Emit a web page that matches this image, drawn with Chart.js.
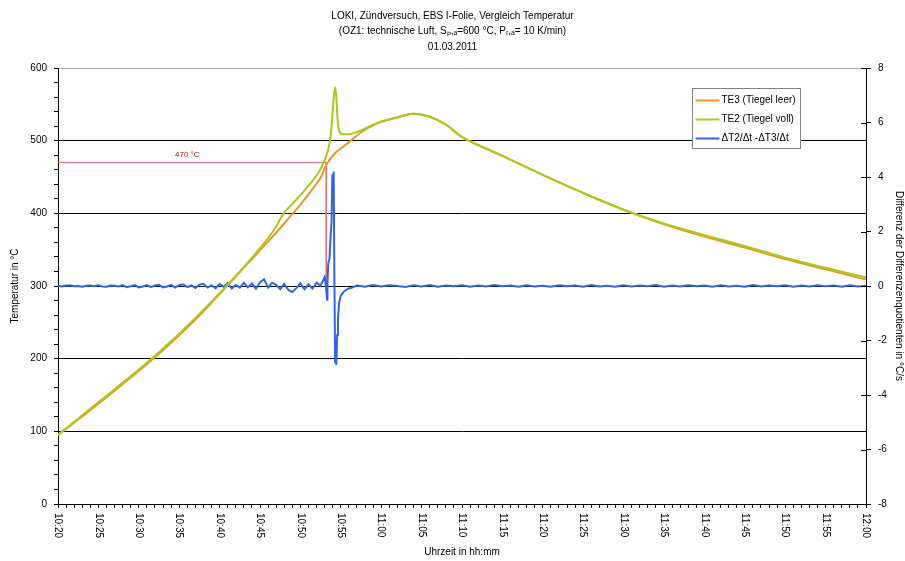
<!DOCTYPE html>
<html><head><meta charset="utf-8">
<script src="https://cdn.jsdelivr.net/npm/chart.js@4.4.0/dist/chart.umd.min.js"></script>
<style>html,body{margin:0;padding:0;background:#fff}</style>
</head><body>
<canvas id="c" width="905" height="561"></canvas>
<script>
// ---- DATA (x = minutes after 10:20) ----
const chartTitle = ['LOKI, Zündversuch, EBS I-Folie, Vergleich Temperatur',
  '(OZ1: technische Luft, S\u209A,\u2090=600 °C, P\u1D63,\u2090= 10 K/min)',
  '01.03.2011'];
const timeTickLabels = ['10:20','10:25','10:30','10:35','10:40','10:45','10:50','10:55','11:00','11:05',
  '11:10','11:15','11:20','11:25','11:30','11:35','11:40','11:45','11:50','11:55','12:00'];
const seriesNames = ['TE3 (Tiegel leer)', 'TE2 (Tiegel voll)', '\u0394T2/\u0394t -\u0394T3/\u0394t'];

const te3Series = [[0,95],[2,112],[4,129],[6,147],[8,165],[10,183],[12,202],[14,222],[16,243],[18,265],
  [20,289],[22,313],[24,337],[26,361],[28,386],[29,399],[30,412],[31,426],[32,441],[32.5,449],[33,462],
  [33.5,472],[34,479],[34.4,484],[35,489],[36,498],[37,507],[38,515],[39,521],[40,526],[42,532],[44,537],
  [46,533],[48,522],[50,505],[52,494],[55,479],[60,453],[65,428],[70,405],[75,385],[80,368],[85,353],
  [90,337],[95,323],[100,309]];

const te2Series = [[0,95],[2,113],[4,131],[6,149],[8,167],[10,185],[12,204],[14,224],[16,245],[18,267],
  [20,290],[22,314],[24,339],[26,366],[27,382],[28,401],[29,413],[30,425],[31,438],[32,452],[32.5,461],
  [33,473],[33.4,486],[33.7,503],[33.9,525],[34.1,555],[34.3,574],[34.45,560],[34.6,530],[34.8,513],
  [35.2,509],[36,509],[37,512],[37.7,515],[38.4,519],[39,522],[40,526],[42,532],[44,537],[46,533],[48,522],
  [50,505],[52,494],[55,479],[60,453],[65,428],[70,405],[75,386],[80,370],[85,355],[90,339],[95,325],[100,312]];

const diffSeries = [[0,0.01],[0.5,-0.02],[1,0.02],[1.5,0.03],[2,-0.01],[2.5,0.0],[3,-0.03],[3.5,0.01],
  [4,0.02],[4.5,-0.01],[5,0.03],[5.5,-0.02],[6,-0.03],[6.5,0.02],[7,0.01],[7.5,-0.02],[8,0.03],[8.5,-0.04],
  [9,-0.01],[9.5,0.03],[10,-0.05],[10.5,-0.02],[11,0.03],[11.5,-0.04],[12,0.02],[12.5,0.04],[13,-0.05],
  [13.5,-0.02],[14,0.04],[14.5,-0.06],[15,0.03],[15.5,0.06],[16,-0.04],[16.5,0.02],[17,-0.07],[17.5,0.05],
  [18,0.08],[18.5,-0.06],[19,0.02],[19.5,-0.08],[20,0.07],[20.5,-0.03],[21,0.1],[21.5,-0.09],[22,0.04],
  [22.5,-0.06],[23,0.12],[23.5,-0.05],[24,0.09],[24.5,-0.1],[25,0.14],[25.5,0.25],[26,-0.06],[26.5,0.12],
  [27,0.04],[27.5,-0.12],[28,0.08],[28.5,-0.14],[29,-0.22],[29.5,-0.08],[30,0.1],[30.5,-0.12],[31,0.06],
  [31.5,-0.1],[32,0.12],[32.5,0.02],
  [33,0.32],[33.15,0.05],[33.3,-0.5],[33.35,0.1],[33.45,0.85],[33.6,1.0],[33.75,1.9],[33.85,2.3],
  [33.95,4.1],[34.05,3.0],[34.12,4.2],[34.2,0.5],[34.3,-2.8],[34.38,-2.0],[34.45,-2.9],[34.55,-1.8],
  [34.65,-1.2],[34.8,-0.6],[35,-0.35],[35.4,-0.2],[35.9,-0.1],[36.5,-0.05],
  [37,0.02],[38,-0.03],[39,0.04],[40,-0.02],[41,0.03],[42,0.0],[43,-0.04],[44,0.03],[45,-0.02],[46,0.04],
  [47,-0.03],[48,0.02],[49,-0.01],[50,0.03],[51,-0.03],[52,0.02],[53,-0.02],[54,0.04],[55,-0.01],[56,0.02],
  [57,-0.03],[58,0.03],[59,-0.02],[60,0.01],[61,-0.03],[62,0.03],[63,-0.01],[64,0.02],[65,-0.03],[66,0.04],
  [67,-0.02],[68,0.01],[69,-0.03],[70,0.03],[71,-0.02],[72,0.02],[73,-0.01],[74,0.04],[75,-0.03],[76,0.02],
  [77,-0.02],[78,0.03],[79,-0.01],[80,0.02],[81,-0.03],[82,0.03],[83,-0.02],[84,0.01],[85,-0.03],[86,0.04],
  [87,-0.02],[88,0.02],[89,-0.01],[90,0.03],[91,-0.03],[92,0.02],[93,-0.02],[94,0.03],[95,-0.01],[96,0.02],
  [97,-0.03],[98,0.03],[99,-0.02],[100,0.01]];

const thresholdLine = [[0,470],[33.2,470],[33.2,300]];
const thresholdLabel = '470 °C';
const thresholdLabelPos = [16, 481];

// ---- styling ----
const FONT = '"Liberation Sans", Arial, sans-serif';
const C_TE3 = 'rgb(232,150,40)';
const C_TE2 = 'rgb(172,200,30)';
const C_DIFF = 'rgb(50,100,232)';
const C_RED = 'rgb(228,110,110)';

function toMinutes(lbl){ const [h,m] = lbl.split(':').map(Number); return h*60+m - (10*60+20); }
const pts = arr => arr.map(([x,y]) => ({x, y}));

const decorPlugin = {
  id: 'decor',
  afterDraw(chart){
    const ctx = chart.ctx, xs = chart.scales.x, ys = chart.scales.y, y1 = chart.scales.y1;
    ctx.save();
    ctx.font = '10px ' + FONT; ctx.fillStyle = '#000';
    ctx.textAlign = 'left'; ctx.textBaseline = 'middle';
    timeTickLabels.forEach(l => {
      const px = xs.getPixelForValue(toMinutes(l));
      ctx.save(); ctx.translate(px, xs.top + 9); ctx.rotate(Math.PI/2);
      ctx.fillText(l, 0, 0); ctx.restore();
    });
    ctx.strokeStyle = '#000'; ctx.lineWidth = 1;
    y1.ticks.forEach(t => {
      const py = Math.round(y1.getPixelForValue(t.value)) + 0.5;
      ctx.beginPath(); ctx.moveTo(y1.left - 5, py); ctx.lineTo(y1.left, py); ctx.stroke();
    });
    ctx.font = '8px ' + FONT; ctx.fillStyle = 'rgb(170,20,20)'; ctx.textAlign = 'center';
    ctx.fillText(thresholdLabel, xs.getPixelForValue(thresholdLabelPos[0]), ys.getPixelForValue(thresholdLabelPos[1]));
    const bx = 692.5, by = 88.5, bw = 108, bh = 60;
    ctx.fillStyle = '#fff'; ctx.fillRect(bx, by, bw, bh);
    ctx.strokeStyle = '#808080'; ctx.strokeRect(bx, by, bw, bh);
    const cols = [C_TE3, C_TE2, C_DIFF];
    ctx.font = '10px ' + FONT; ctx.textAlign = 'left'; ctx.textBaseline = 'middle';
    seriesNames.forEach((n, i) => {
      const yy = by + 12 + i * 19;
      ctx.strokeStyle = cols[i]; ctx.lineWidth = 2;
      ctx.beginPath(); ctx.moveTo(bx + 3, yy); ctx.lineTo(bx + 27, yy); ctx.stroke();
      ctx.fillStyle = '#000'; ctx.fillText(n, bx + 29, yy);
    });
    ctx.restore();
  }
};

new Chart(document.getElementById('c'), {
  type: 'line',
  data: { datasets: [
    { label: seriesNames[1], data: pts(te2Series), yAxisID: 'y', borderColor: C_TE2, borderWidth: 2, order: 0, cubicInterpolationMode: 'monotone' },
    { label: seriesNames[0], data: pts(te3Series), yAxisID: 'y', borderColor: C_TE3, borderWidth: 2, order: 1, cubicInterpolationMode: 'monotone' },
    { label: seriesNames[2], data: pts(diffSeries), yAxisID: 'y1', borderColor: C_DIFF, borderWidth: 2, order: 2 },
    { label: 'threshold', data: pts(thresholdLine), yAxisID: 'y', borderColor: C_RED, borderWidth: 1, order: 3 }
  ]},
  options: {
    responsive: false, animation: false, devicePixelRatio: 1,
    elements: { point: { radius: 0 }, line: { tension: 0, fill: false } },
    layout: { padding: 0 },
    plugins: {
      legend: { display: false }, tooltip: { enabled: false },
      title: { display: true, text: chartTitle, color: '#000',
        font: { family: FONT, size: 10, weight: 'normal', lineHeight: 1.55 },
        padding: { top: 8, bottom: 13.5 } }
    },
    scales: {
      x: { type: 'linear', min: 0, max: 100,
        ticks: { stepSize: 1, display: false },
        grid: { drawOnChartArea: false, tickLength: 4, color: '#000', tickColor: '#000' },
        border: { color: '#000' },
        title: { display: true, text: 'Uhrzeit in hh:mm', color: '#000', font: { family: FONT, size: 10 }, padding: { top: 0, bottom: 3 } },
        afterFit: s => { s.height = 57; }
      },
      y: { type: 'linear', position: 'left', min: 0, max: 600,
        ticks: { stepSize: 20, autoSkip: false, padding: 7, color: '#000', font: { family: FONT, size: 10 },
          callback: v => (v % 100 === 0 ? String(v) : '') },
        grid: { tickLength: 4, tickColor: '#000',
          color: c => { const v = c.tick ? c.tick.value : null; if (v === 600) return '#a8a8a8'; if (v > 0 && v % 100 === 0) return '#000'; return 'rgba(0,0,0,0)'; } },
        border: { color: '#000' },
        title: { display: true, text: 'Temperatur in °C', color: '#000', font: { family: FONT, size: 10 }, padding: { top: 9, bottom: 0 } },
        afterFit: s => { s.width = 58; }
      },
      y1: { type: 'linear', position: 'right', min: -8, max: 8,
        ticks: { stepSize: 2, autoSkip: false, padding: 7, color: '#000', font: { family: FONT, size: 10 } },
        grid: { drawOnChartArea: false, tickLength: 5, color: '#000', tickColor: '#000' },
        border: { color: '#000' },
        title: { display: true, text: 'Differenz der Differenzenquotienten in °C/s', color: '#000', font: { family: FONT, size: 10 }, padding: { top: 0, bottom: 0 } },
        afterFit: s => { s.width = 39; }
      }
    }
  },
  plugins: [decorPlugin]
});
</script>
</body></html>
